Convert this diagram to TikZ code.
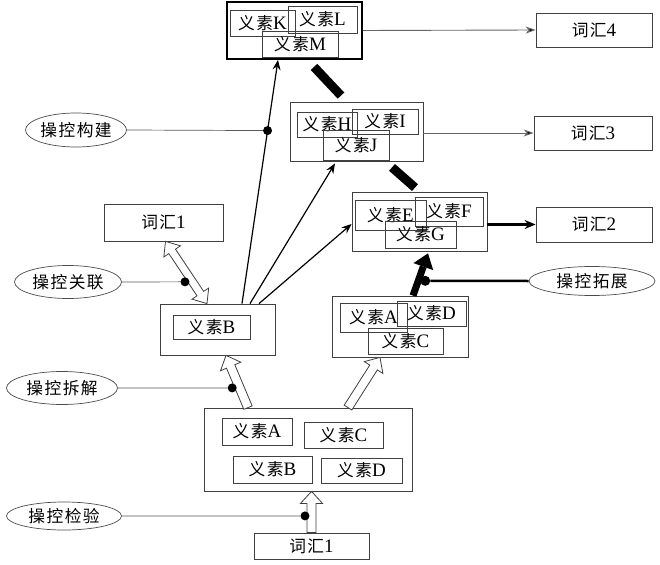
\documentclass[tikz,border=0pt]{standalone}
\usepackage{fontspec}
\setmainfont{Liberation Serif}
\newfontfamily\cjk[Scale=0.88,LetterSpace=9]{Noto Sans CJK SC}
\usetikzlibrary{shapes.geometric,arrows.meta,calc}

\newcommand\ys[1]{{\cjk 义素}#1}
\newcommand\ch[1]{{\cjk 词汇}#1}

% hollow block arrow from #1 to #2
\newcommand\hollowarrow[2]{%
  \path ($(#2)!12pt!(#1)$) coordinate (hb);
  \draw[hollow] ($(#1)!4.5pt!90:(#2)$) -- ($(hb)!4.5pt!90:(#2)$) -- ($(hb)!11pt!90:(#2)$) -- (#2)
    -- ($(hb)!11pt!-90:(#2)$) -- ($(hb)!4.5pt!-90:(#2)$) -- ($(#1)!4.5pt!-90:(#2)$) -- cycle;
}
% hollow block arrow with two heads
\newcommand\hollowdarrow[2]{%
  \path ($(#2)!12pt!(#1)$) coordinate (hb) ($(#1)!12pt!(#2)$) coordinate (ha);
  \draw[hollow] (#1) -- ($(ha)!10pt!90:(#2)$) -- ($(ha)!4pt!90:(#2)$) -- ($(hb)!4pt!90:(#2)$)
    -- ($(hb)!10pt!90:(#2)$) -- (#2) -- ($(hb)!10pt!-90:(#2)$) -- ($(hb)!4pt!-90:(#2)$)
    -- ($(ha)!4pt!-90:(#2)$) -- ($(ha)!10pt!-90:(#2)$) -- cycle;
}

\begin{document}
\begin{tikzpicture}[x=1pt, y=-1pt,
    box/.style={rectangle, draw=black!75, line width=0.8pt, inner sep=0pt, font=\fontsize{19}{21}\selectfont},
    sz/.style 2 args={minimum width=#1, minimum height=#2},
    ctrl/.style={ellipse, draw=black!70, line width=0.7pt, inner sep=0pt, font=\fontsize{19}{21}\selectfont\cjk},
    dot/.style={circle, fill=black, inner sep=0pt, minimum size=9pt},
    arrow/.style={line width=1.2pt, -{Stealth[length=10pt,width=8pt]}},
    grayarrow/.style={line width=0.9pt, draw=black!60, -{Stealth[length=10pt,width=7pt,fill=black]}},
    link/.style={line width=0.7pt, draw=black!65},
    bar/.style={line width=9pt},
    hollow/.style={draw=black!75, line width=0.8pt, fill=white, line join=miter}
]
    \useasboundingbox (0,0) rectangle (660,564);

    % Top: K L M
    \node[box, sz={135}{57}, line width=1.8pt, draw=black] (klm) at (294.5,30.5) {};
    \node[box, sz={65}{26}] (k) at (262.5,23) {\ys{K}};
    \node[box, sz={69}{27}] (l) at (322.5,19.5) {\ys{L}};
    \node[box, sz={76}{26}] (m) at (300,44) {\ys{M}};

    % H I J
    \node[box, sz={133}{59}] (hij) at (356.5,131.5) {};
    \node[box, sz={60}{25}] (h) at (327,124.5) {\ys{H}};
    \node[box, sz={66}{25}] (i) at (385,121.5) {\ys{I}};
    \node[box, sz={66}{30}] (j) at (356,145) {\ys{J}};

    % E F G
    \node[box, sz={135}{59}] (efg) at (419.5,221.5) {};
    \node[box, sz={71}{30}] (e) at (390.5,215) {\ys{E}};
    \node[box, sz={68}{29}] (f) at (449,211.5) {\ys{F}};
    \node[box, sz={71}{27}] (g) at (420.5,234.5) {\ys{G}};

    % A D C
    \node[box, sz={136}{61}] (adc) at (400,326.5) {};
    \node[box, sz={67}{29}] (a2) at (373.5,317.5) {\ys{A}};
    \node[box, sz={69}{25}] (d2) at (431.5,313.5) {\ys{D}};
    \node[box, sz={75}{26}] (c2) at (405.5,341) {\ys{C}};

    % B
    \node[box, sz={115}{51}] (bb) at (217.5,329.5) {};
    \node[box, sz={77}{24}] (b2) at (211.5,327) {\ys{B}};

    % A B C D
    \node[box, sz={208}{83}] (all) at (308,449.5) {};
    \node[box, sz={70}{27}] (a1) at (257,431.5) {\ys{A}};
    \node[box, sz={79}{26}] (c1) at (343.5,435) {\ys{C}};
    \node[box, sz={79}{27}] (b1) at (272.5,469.5) {\ys{B}};
    \node[box, sz={81}{25}] (d1) at (361.5,470.5) {\ys{D}};

    % Vocabulary
    \node[box, sz={115}{26}] (vocab1b) at (311.5,546) {\ch{1}};
    \node[box, sz={119}{37}] (vocab1a) at (163.5,222.5) {\ch{1}};
    \node[box, sz={116}{34}] (vocab4) at (594,30) {\ch{4}};
    \node[box, sz={118}{34}] (vocab3) at (593,133) {\ch{3}};
    \node[box, sz={116}{35}] (vocab2) at (594,224.5) {\ch{2}};

    % Operations
    \node[ctrl, sz={101}{34}] (build) at (76,130) {操控构建};
    \node[ctrl, sz={107}{33}] (assoc) at (68,282) {操控关联};
    \node[ctrl, sz={111}{33}] (split) at (62,388) {操控拆解};
    \node[ctrl, sz={115}{28}] (check) at (64,516) {操控检验};
    \node[ctrl, sz={126}{29}] (expand) at (592,281) {操控拓展};

    % Arrows from B
    \coordinate (s1) at ([xshift=24.5pt]bb.north);
    \coordinate (t1) at ([xshift=-16.5pt]klm.south);
    \coordinate (s2) at ([xshift=32.5pt]bb.north);
    \coordinate (t2) at ([xshift=-21.5pt,yshift=-2pt]hij.south);
    \coordinate (s3) at ([xshift=41.5pt]bb.north);
    \coordinate (t3) at ([yshift=-2.5pt]efg.west);
    \draw[arrow] (s1) -- (t1);
    \draw[arrow] (s2) -- (t2);
    \draw[arrow] (s3) -- (t3);

    % Thick bars
    \coordinate (r1) at ([xshift=19.5pt,yshift=-7pt]klm.south);
    \coordinate (r2) at ([xshift=-15.5pt,yshift=6pt]hij.north);
    \coordinate (r3) at ([xshift=35.5pt,yshift=-6pt]hij.south);
    \coordinate (r4) at ([xshift=-4.5pt,yshift=4pt]efg.north);
    \draw[bar] (r1) -- (r2);
    \draw[bar] (r3) -- (r4);

    % Expansion arrow
    \coordinate (x1) at ([xshift=13pt]adc.north);
    \coordinate (x2) at ([xshift=8.5pt,yshift=-2pt]efg.south);
    \draw[line width=7pt, -{Triangle[length=14pt,width=21pt,line width=0pt]}] (x1) -- (x2);

    % Outputs
    \draw[grayarrow] (klm.east) -- (vocab4.west);
    \draw[grayarrow] (hij.east |- vocab3.west) -- (vocab3.west);
    \draw[line width=2.5pt, -{Stealth[length=11pt,width=9pt]}] (efg.east |- vocab2.west) -- (vocab2.west);

    % Hollow arrows
    \coordinate (p1) at ([xshift=-10.5pt]bb.north);
    \coordinate (p2) at ([xshift=2pt]vocab1a.south);
    \coordinate (p3) at ([xshift=-60pt]all.north);
    \coordinate (p4) at ([xshift=8.5pt]bb.south);
    \coordinate (p5) at ([xshift=40pt]all.north);
    \coordinate (p6) at ([xshift=-20pt]adc.south);
    \coordinate (p7) at (vocab1b.north);
    \coordinate (p8) at (vocab1b.north |- all.south);
    \hollowdarrow{p1}{p2}
    \hollowarrow{p3}{p4}
    \hollowarrow{p5}{p6}
    \hollowarrow{p7}{p8}

    % Dots and links
    \node[dot] (k1) at ($(s1)!0.71!(t1)$) {};
    \node[dot] (k2) at ($(p1)!0.35!(p2)+(-7.5,0)$) {};
    \node[dot] (k3) at ($(p3)!0.377!(p4)+(-7.5,0)$) {};
    \node[dot] (k4) at ($(p7)!0.405!(p8)+(-6.5,0)$) {};
    \node[dot, minimum size=10pt] (k5) at ($(x1)!0.35!(x2)+(7,0)$) {};
    \draw[link] (build.east) -- (k1);
    \draw[link] (assoc.east) -- (k2);
    \draw[link] (split.east) -- (k3);
    \draw[link] (check.east) -- (k4);
    \draw[line width=2.5pt] (expand.west) -- (k5);
\end{tikzpicture}
\end{document}
